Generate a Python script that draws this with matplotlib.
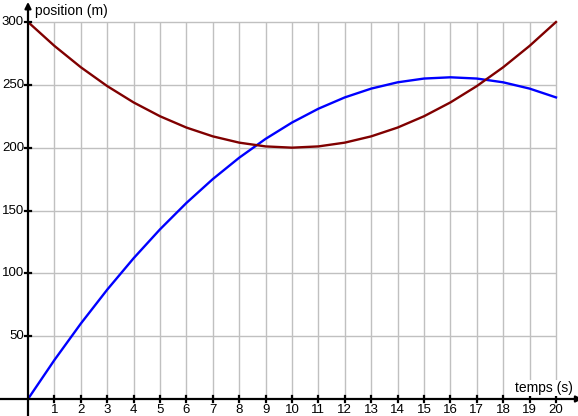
import numpy as np
import matplotlib.pyplot as plt

# values, one per second
temps = list(range(0, 21))
pos_bleu = [0, 31, 60, 87, 112, 135, 156, 175, 192, 207, 220,
            231, 240, 247, 252, 255, 256, 255, 252, 247, 240]
pos_marron = [300, 281, 264, 249, 236, 225, 216, 209, 204, 201, 200,
              201, 204, 209, 216, 225, 236, 249, 264, 281, 300]
xticks = list(range(1, 21))
yticks = [50, 100, 150, 200, 250, 300]

W, H = 578, 416
x0_px, x20_px = 28, 556
y0_px, y300_px = 399, 22
sx = (x20_px - x0_px) / 20.0
sy = (y0_px - y300_px) / 300.0

fig = plt.figure(figsize=(W / 100, H / 100), dpi=100)
ax = fig.add_axes([0, 0, 1, 1])
ax.set_xlim(-x0_px / sx, (W - x0_px) / sx)
ax.set_ylim(-(H - y0_px) / sy, y0_px / sy)
ax.axis('off')

grid_c = '#c0c0c0'
ax.vlines(xticks, 0, 300, color=grid_c, lw=1, zorder=1)
ax.hlines(yticks, 0, 20, color=grid_c, lw=1, zorder=1)

ax.plot(temps, pos_bleu, color='#0000ff', lw=1.7, zorder=3)
ax.plot(temps, pos_marron, color='#800000', lw=1.7, zorder=3)

# axes with arrows
arrow = dict(arrowstyle='-|>', color='black', lw=1.6,
             mutation_scale=9, shrinkA=0, shrinkB=0)
ax.annotate('', xy=(21.0, 0), xytext=(-x0_px / sx, 0),
            arrowprops=arrow, annotation_clip=False, zorder=4)
ax.annotate('', xy=(0, 316), xytext=(0, -(H - y0_px) / sy),
            arrowprops=arrow, annotation_clip=False, zorder=4)

tx = 3 / sy
ty = 3 / sx
for t in xticks:
    ax.plot([t, t], [-tx, tx], color='black', lw=1.6, zorder=4)
    ax.text(t, -5 / sy, str(t), ha='center', va='top', fontsize=9.5,
            family='Liberation Sans')
for v in yticks:
    ax.plot([-ty, ty], [v, v], color='black', lw=1.6, zorder=4)
    ax.text(-4 / sx, v, str(v), ha='right', va='center', fontsize=9.5,
            family='Liberation Sans')

ax.text(7 / sx, 309, 'position (m)', ha='left', va='center', fontsize=10,
        family='Liberation Sans')
ax.text(20.63, 11 / sy, 'temps (s)', ha='right', va='center', fontsize=10,
        family='Liberation Sans', zorder=5,
        bbox=dict(facecolor='white', edgecolor='none', pad=1))

fig.savefig('out.png', dpi=100)
